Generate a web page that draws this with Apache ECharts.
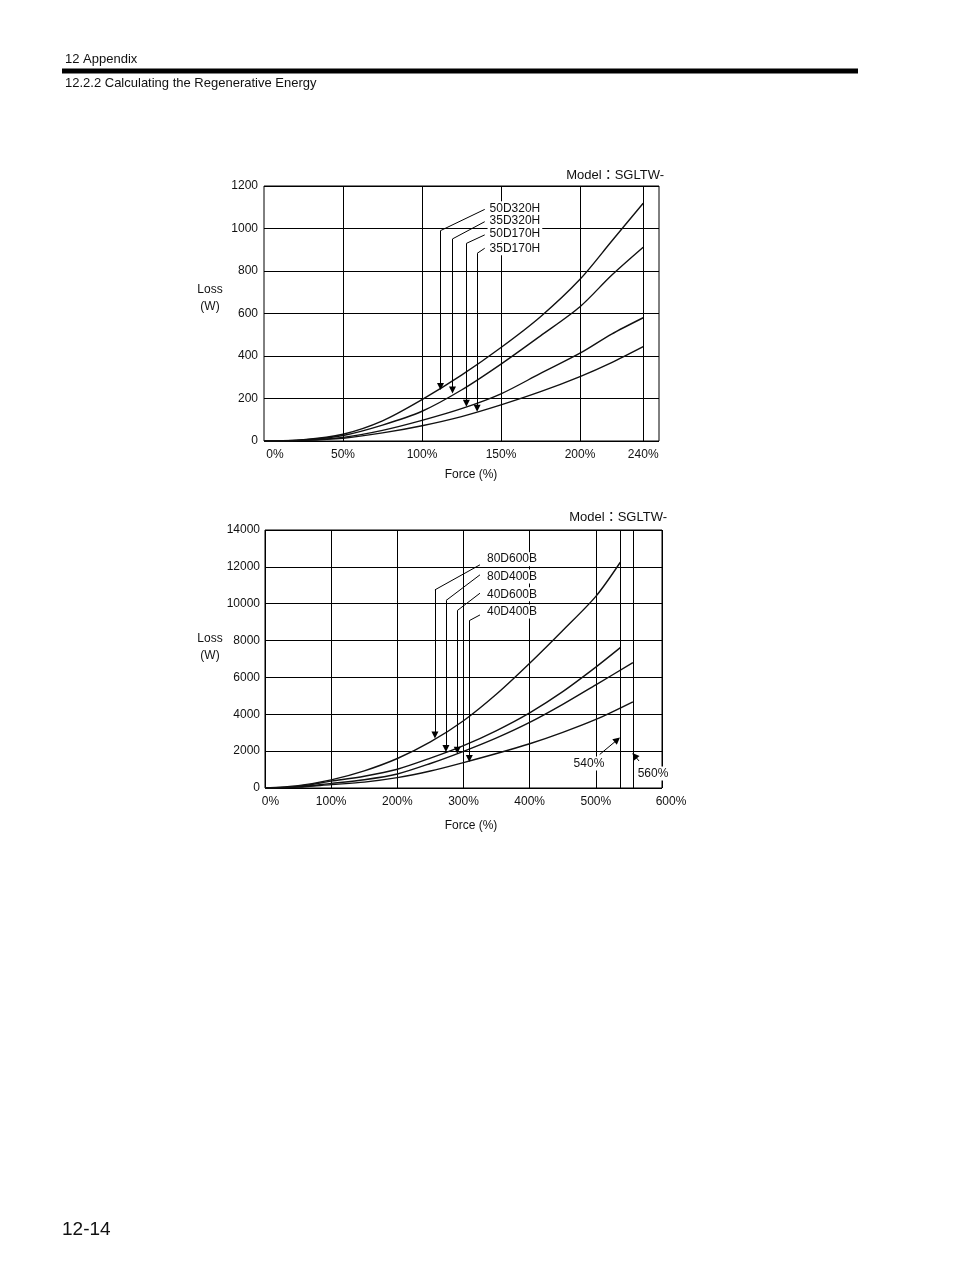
<!DOCTYPE html>
<html>
<head>
<meta charset="utf-8">
<title>Loss vs Force - SGLTW</title>
<script src="https://cdn.jsdelivr.net/npm/echarts@6/dist/echarts.min.js"></script>
<style>
    html, body { margin: 0; padding: 0; background: #fff; }
    #page { width: 954px; height: 1274px; }
</style>
</head>
<body>
<div id="page"></div>
<script>
// ---- upper chart: SGLTW-xxxH ----
var topForce = [0, 25, 50, 75, 100, 125, 150, 175, 200, 220, 240];
var topNames = ['50D320H', '35D320H', '50D170H', '35D170H'];
var loss50D320H = [0, 6, 32, 95, 195, 310, 440, 585, 761, 940, 1119];
var loss35D320H = [0, 5, 26, 75, 140, 240, 362, 495, 632, 780, 912];
var loss50D170H = [0, 4, 17, 50, 97, 152, 222, 318, 413, 503, 580];
var loss35D170H = [0, 3, 13, 38, 72, 115, 170, 232, 303, 369, 444];
var topXLabels = [0, 50, 100, 150, 200, 240];
var topGridX = [50, 100, 150, 200, 240];
// annotation points (force %, loss W)
var topNoteLabelAt = [[141.5, 1095], [141.5, 1036], [141.5, 974], [141.5, 907]];
var topNoteStart = [[139.7, 1090], [139.7, 1032], [139.7, 970], [139.7, 907]];
var topNoteBend = [[111.7, 990], [119.3, 951], [128.1, 930], [134.9, 883]];
var topNoteTip = [[111.7, 256], [119.3, 240], [128.1, 178], [134.9, 154]];

// ---- lower chart: SGLTW-xxxB ----
var bottomForce = [0, 50, 100, 150, 200, 250, 300, 350, 400, 450, 500];
var bottomEnd = [537, 537, 556, 556];
var bottomNames = ['80D600B', '80D400B', '40D600B', '40D400B'];
var loss80D600B = [0, 130, 440, 930, 1600, 2500, 3650, 5100, 6770, 8550, 10400, 12250];
var loss80D400B = [0, 90, 370, 640, 1020, 1620, 2300, 3120, 4080, 5230, 6560, 7615];
var loss40D600B = [0, 60, 250, 450, 760, 1330, 1990, 2720, 3560, 4540, 5600, 6800];
var loss40D400B = [0, 45, 185, 320, 560, 920, 1380, 1870, 2400, 3020, 3720, 4680];
var bottomGridX = [537, 556];
var bottomNoteLabelAt = [[332.5, 12419], [332.5, 11476], [332.5, 10515], [332.5, 9573]];
var bottomNoteStart = [[324.9, 12111], [324.9, 11567], [324.9, 10570], [324.9, 9391]];
var bottomNoteBend = [[256.8, 10751], [273.5, 10171], [290.6, 9627], [308.8, 9083]];
var bottomNoteTip = [[256.8, 2870], [273.5, 2140], [290.6, 2050], [308.8, 1600]];
var limitNames = ['540%', '560%'];
var limitLabelAt = [[489.6, 1332], [586.4, 783]];
var limitStart = [[505.8, 1817], [565.2, 1468]];
var limitTip = [[532.4, 2615], [558.6, 1757]];

var FONT = "'Liberation Sans', Arial, 'Noto Sans CJK JP', sans-serif";
var INK = '#111';

function pairs(xs, ys) {
    return ys.map(function(y, i) { return [xs[i], y]; });
}

function segs(from, to) {
    return from.map(function(p, i) { return { coords: [p, to[i]] }; });
}

function curve(name, data, gi, withGrid) {
    var s = {
        name: name,
        type: 'line',
        xAxisIndex: gi,
        yAxisIndex: gi,
        data: data,
        smooth: 0.3,
        showSymbol: false,
        symbol: 'none',
        lineStyle: { color: INK, width: 1.4 },
        silent: true,
        z: 3
    };
    if (withGrid) {
        // extra vertical grid lines that do not sit on regular ticks
        s.markLine = {
            silent: true,
            symbol: ['none', 'none'],
            label: { show: false },
            lineStyle: { color: '#000', width: 1, type: 'solid' },
            data: withGrid.map(function(v) { return { xAxis: v }; })
        };
    }
    return s;
}

function leaders(gi, from, to, arrow) {
    return {
        type: 'lines',
        coordinateSystem: 'cartesian2d',
        xAxisIndex: gi,
        yAxisIndex: gi,
        symbol: arrow ? ['none', 'triangle'] : ['none', 'none'],
        symbolSize: 7,
        lineStyle: { color: '#000', width: 1, opacity: 1, curveness: 0 },
        itemStyle: { color: '#000', opacity: 1 },
        data: segs(from, to),
        silent: true,
        z: 4
    };
}

function tags(gi, points, names, pos) {
    return {
        type: 'scatter',
        xAxisIndex: gi,
        yAxisIndex: gi,
        symbolSize: 0,
        silent: true,
        z: 6,
        itemStyle: { opacity: 1 },
        data: points.map(function(p, i) { return { value: p, name: names[i] }; }),
        label: {
            show: true,
            position: pos,
            distance: 0,
            formatter: '{b}',
            color: INK,
            opacity: 1,
            fontSize: 12,
            fontFamily: FONT,
            backgroundColor: '#fff',
            padding: [1, 2, 1, 2]
        }
    };
}

function text(x, y, str, size, align, extra) {
    var st = {
        text: str,
        x: 0,
        y: 0,
        fill: INK,
        font: size + 'px ' + FONT,
        align: align || 'left',
        verticalAlign: 'middle'
    };
    if (extra) {
        for (var k in extra) st[k] = extra[k];
    }
    return { type: 'text', x: x, y: y, style: st, silent: true };
}

var axisText = { color: INK, fontSize: 12, fontFamily: FONT };
var plainNum = function(v) { return String(v); };

var chart = echarts.init(document.getElementById('page'));

var option = {
    animation: false,
    backgroundColor: '#fff',
    grid: [
        { left: 264, right: 295, top: 186, bottom: 833, show: true, borderColor: '#000', borderWidth: 1 },
        { left: 265, right: 292, top: 530, bottom: 486, show: true, borderColor: '#000', borderWidth: 1 }
    ],
    xAxis: [
        {
            type: 'value', gridIndex: 0, min: 0, max: 250, interval: 10,
            axisLine: { show: false }, axisTick: { show: false }, splitLine: { show: false },
            axisLabel: Object.assign({}, axisText, {
                margin: 8,
                formatter: function(v) {
                    if (topXLabels.indexOf(v) < 0) return '';
                    return v === 0 ? '{z|0%}' : v + '%';
                },
                rich: { z: { fontSize: 12, fontFamily: FONT, color: INK, padding: [0, 0, 0, 22] } }
            })
        },
        {
            type: 'value', gridIndex: 1, min: 0, max: 600, interval: 100,
            axisLine: { show: false }, axisTick: { show: false },
            splitLine: { show: true, lineStyle: { color: '#000', width: 1 } },
            axisLabel: Object.assign({}, axisText, {
                margin: 8,
                formatter: function(v) {
                    if (v === 0) return '{z|0%}';
                    if (v === 600) return '{e|600%}';
                    return v + '%';
                },
                rich: {
                    z: { fontSize: 12, fontFamily: FONT, color: INK, padding: [0, 0, 0, 11] },
                    e: { fontSize: 12, fontFamily: FONT, color: INK, padding: [0, 0, 0, 18] }
                }
            })
        }
    ],
    yAxis: [
        {
            type: 'value', gridIndex: 0, min: 0, max: 1200, interval: 200,
            axisLine: { show: false }, axisTick: { show: false },
            splitLine: { show: true, lineStyle: { color: '#000', width: 1 } },
            axisLabel: Object.assign({}, axisText, { margin: 6, formatter: plainNum })
        },
        {
            type: 'value', gridIndex: 1, min: 0, max: 14000, interval: 2000,
            axisLine: { show: false }, axisTick: { show: false },
            splitLine: { show: true, lineStyle: { color: '#000', width: 1 } },
            axisLabel: Object.assign({}, axisText, { margin: 5, formatter: plainNum })
        }
    ],
    series: [
        curve(topNames[0], pairs(topForce, loss50D320H), 0, topGridX),
        curve(topNames[1], pairs(topForce, loss35D320H), 0),
        curve(topNames[2], pairs(topForce, loss50D170H), 0),
        curve(topNames[3], pairs(topForce, loss35D170H), 0),
        leaders(0, topNoteStart, topNoteBend, false),
        leaders(0, topNoteBend, topNoteTip, true),
        tags(0, topNoteLabelAt, topNames, 'right'),

        curve(bottomNames[0], pairs(bottomForce.concat(bottomEnd[0]), loss80D600B), 1, bottomGridX),
        curve(bottomNames[1], pairs(bottomForce.concat(bottomEnd[1]), loss80D400B), 1),
        curve(bottomNames[2], pairs(bottomForce.concat(bottomEnd[2]), loss40D600B), 1),
        curve(bottomNames[3], pairs(bottomForce.concat(bottomEnd[3]), loss40D400B), 1),
        leaders(1, bottomNoteStart, bottomNoteBend, false),
        leaders(1, bottomNoteBend, bottomNoteTip, true),
        tags(1, bottomNoteLabelAt, bottomNames, 'right'),
        leaders(1, limitStart, limitTip, true),
        tags(1, limitLabelAt, limitNames, 'inside')
    ],
    graphic: [
        text(65, 59, '12 Appendix', 13),
        { type: 'rect', shape: { x: 62, y: 68.5, width: 796, height: 5 }, style: { fill: '#000' }, silent: true },
        text(65, 83, '12.2.2 Calculating the Regenerative Energy', 13),
        text(62, 1230, '12-14', 19),

        text(664, 175, 'Model：SGLTW-', 13, 'right'),
        text(210, 298, 'Loss\n(W)', 12, 'center', { lineHeight: 17 }),
        text(471, 475, 'Force (%)', 12, 'center'),

        text(667, 517, 'Model：SGLTW-', 13, 'right'),
        text(210, 647, 'Loss\n(W)', 12, 'center', { lineHeight: 17 }),
        text(471, 826, 'Force (%)', 12, 'center')
    ]
};

chart.setOption(option);
</script>
</body>
</html>
